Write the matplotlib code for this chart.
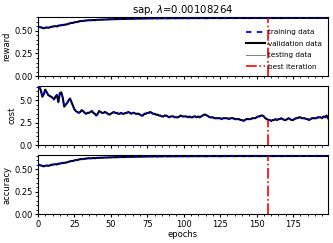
import numpy as np
import matplotlib.pyplot as plt

best_epoch = 158
title = r"sap, $\lambda$=0.00108264"

reward = [
    0.55, 0.545, 0.54, 0.535, 0.53, 0.535, 0.54, 0.535, 0.54, 0.545,
    0.55, 0.55, 0.555, 0.55, 0.56, 0.56, 0.565, 0.565, 0.57, 0.57,
    0.575, 0.58, 0.585, 0.59, 0.59, 0.595, 0.60, 0.60, 0.605, 0.61,
    0.61, 0.612, 0.615, 0.615, 0.618, 0.62, 0.618, 0.62, 0.622, 0.62,
    0.622, 0.625, 0.624, 0.626, 0.625, 0.627, 0.628, 0.627, 0.629, 0.63,
    0.629, 0.631, 0.63, 0.632, 0.631, 0.633, 0.632, 0.634, 0.633, 0.635,
    0.634, 0.635, 0.636, 0.635, 0.636, 0.637, 0.636, 0.637, 0.638, 0.637,
    0.638, 0.637, 0.639, 0.638, 0.639, 0.64, 0.639, 0.64, 0.639, 0.64,
    0.641, 0.64, 0.639, 0.64, 0.641, 0.64, 0.641, 0.642, 0.641, 0.64,
    0.641, 0.642, 0.641, 0.642, 0.641, 0.642, 0.643, 0.642, 0.641, 0.642,
    0.642, 0.643, 0.642, 0.641, 0.642, 0.643, 0.642, 0.643, 0.642, 0.643,
    0.642, 0.643, 0.644, 0.643, 0.642, 0.643, 0.642, 0.643, 0.644, 0.643,
    0.643, 0.644, 0.643, 0.644, 0.643, 0.642, 0.643, 0.644, 0.643, 0.644,
    0.643, 0.644, 0.645, 0.644, 0.643, 0.644, 0.643, 0.644, 0.645, 0.644,
    0.644, 0.643, 0.644, 0.645, 0.644, 0.643, 0.644, 0.645, 0.644, 0.645,
    0.644, 0.645, 0.644, 0.643, 0.644, 0.645, 0.644, 0.645, 0.646, 0.645,
    0.644, 0.643, 0.644, 0.645, 0.644, 0.645, 0.644, 0.643, 0.644, 0.645,
    0.644, 0.645, 0.646, 0.645, 0.644, 0.645, 0.644, 0.645, 0.644, 0.645,
    0.646, 0.645, 0.644, 0.645, 0.646, 0.645, 0.644, 0.645, 0.646, 0.645,
    0.645, 0.644, 0.645, 0.646, 0.645, 0.644, 0.645, 0.646, 0.645, 0.645,
]

cost = [
    6.3, 6.5, 6.1, 5.4, 5.7, 6.2, 5.9, 5.6, 5.5, 5.4,
    5.3, 5.1, 5.4, 5.6, 4.8, 5.8, 5.9, 5.3, 4.3, 4.5,
    4.7, 5.0, 5.2, 4.8, 4.4, 4.0, 3.8, 3.7, 3.6, 3.7,
    3.9, 3.8, 3.6, 3.5, 3.6, 3.6, 3.7, 3.8, 3.6, 3.5,
    3.3, 3.5, 3.8, 3.7, 3.6, 3.6, 3.7, 3.6, 3.5, 3.4,
    3.5, 3.6, 3.7, 3.6, 3.6, 3.5, 3.5, 3.6, 3.5, 3.5,
    3.6, 3.6, 3.7, 3.6, 3.5, 3.6, 3.6, 3.5, 3.5, 3.5,
    3.4, 3.3, 3.3, 3.5, 3.5, 3.6, 3.6, 3.7, 3.6, 3.5,
    3.5, 3.4, 3.4, 3.3, 3.3, 3.2, 3.2, 3.3, 3.3, 3.2,
    3.1, 3.2, 3.2, 3.2, 3.1, 3.1, 3.1, 3.2, 3.3, 3.2,
    3.2, 3.2, 3.2, 3.1, 3.2, 3.1, 3.1, 3.2, 3.2, 3.1,
    3.2, 3.1, 3.2, 3.3, 3.4, 3.4, 3.3, 3.2, 3.1, 3.1,
    3.1, 3.0, 3.0, 3.0, 3.0, 3.0, 2.9, 3.0, 3.0, 3.0,
    3.0, 2.9, 3.0, 3.0, 3.0, 2.9, 2.9, 2.9, 2.9, 2.8,
    2.8, 2.7, 2.8, 2.9, 2.9, 2.9, 2.9, 3.0, 3.0, 3.0,
    3.1, 3.2, 3.2, 3.3, 3.3, 3.2, 3.0, 2.9, 2.8, 2.8,
    2.7, 2.8, 2.8, 2.9, 2.8, 2.9, 2.9, 3.0, 2.9, 2.8,
    2.8, 2.9, 3.0, 2.9, 2.8, 2.8, 2.9, 3.0, 3.0, 3.1,
    3.1, 3.0, 3.0, 3.0, 2.9, 2.9, 2.8, 2.9, 3.0, 3.0,
    3.0, 3.0, 3.1, 3.1, 3.1, 3.0, 3.2, 3.1, 3.3, 3.0,
]

# accuracy curve looks the same as reward in the picture
accuracy = reward

panels = [("reward", reward, 0.655), ("cost", cost, 6.6), ("accuracy", accuracy, 0.655)]
epochs = np.arange(len(reward))

plt.rcParams["font.size"] = 6

fig, axes = plt.subplots(3, 1, figsize=(3.33, 2.43), dpi=100, sharex=True)
fig.subplots_adjust(left=0.114, right=0.985, top=0.93, bottom=0.119, hspace=0.17)

for ax, (name, vals, top) in zip(axes, panels):
    vals = np.asarray(vals)
    ax.plot(epochs, vals, color="blue", linestyle=(0, (3, 3)), linewidth=0.9,
            label="training data", zorder=3)
    ax.plot(epochs, vals, color="black", linewidth=1.5,
            label="validation data", zorder=2)
    ax.plot(epochs, vals, color="gray", linewidth=0.7,
            label="testing data", zorder=1)
    ax.plot([best_epoch, best_epoch], [0, vals[best_epoch]], color="red",
            linestyle="-.", linewidth=1.2, label="best iteration", zorder=4)
    ax.set_ylim(0, top)
    ax.set_xlim(0, len(reward) - 1)
    ax.set_ylabel(name, labelpad=2)
    ax.minorticks_on()
    ax.tick_params(which="major", labelsize=6, length=2.5, pad=1.5)
    ax.tick_params(which="minor", length=1.5)

axes[0].set_title(title, fontsize=7.3, pad=3)
leg = axes[0].legend(loc="lower right", frameon=False, fontsize=5.2,
                     handlelength=2.6, handletextpad=0.4, labelspacing=0.75,
                     borderaxespad=0.5)
leg.get_lines()[0].set_linewidth(1.3)
axes[2].set_xlabel("epochs", labelpad=1)

fig.savefig("out.png", dpi=100)
